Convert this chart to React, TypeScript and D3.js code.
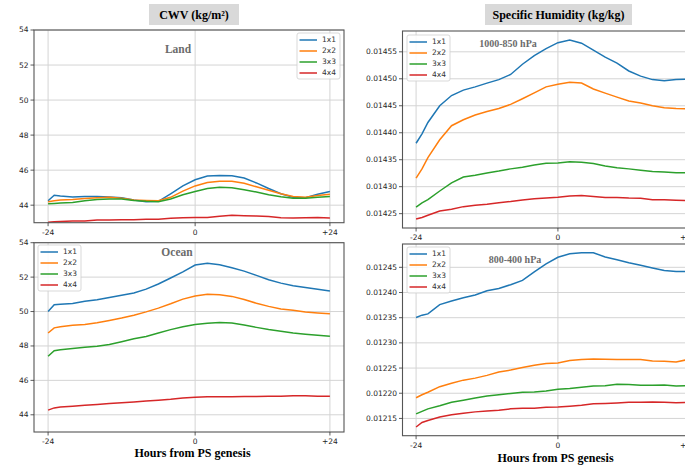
import * as d3 from "d3";

// hours index: 0 = -24 h, 24 = genesis, 46 = last step (labelled +24)
const steps = [0, 1, 2, 4, 6, 8, 10, 12, 14, 16, 18, 20, 22, 24, 26, 28, 30, 32, 34, 36, 38, 40, 42, 44, 46];
const tickSteps = [0, 24, 46];
const tickLabels = ["-24", "0", "+24"];
const seriesNames = ["1x1", "2x2", "3x3", "4x4"];
const colors = ["#1f77b4", "#ff7f0e", "#2ca02c", "#d62728"];

const cwvLand1 = [44.25, 44.57, 44.52, 44.47, 44.5, 44.5, 44.47, 44.42, 44.3, 44.2, 44.22, 44.65, 45.1, 45.45, 45.67, 45.7, 45.68, 45.55, 45.27, 44.95, 44.65, 44.45, 44.42, 44.62, 44.78];
const cwvLand2 = [44.2, 44.25, 44.3, 44.33, 44.38, 44.42, 44.45, 44.4, 44.3, 44.27, 44.25, 44.45, 44.8, 45.1, 45.3, 45.37, 45.37, 45.25, 45.05, 44.85, 44.65, 44.5, 44.45, 44.55, 44.63];
const cwvLand3 = [44.08, 44.1, 44.12, 44.15, 44.25, 44.33, 44.35, 44.35, 44.27, 44.22, 44.2, 44.35, 44.6, 44.78, 44.95, 45.02, 45.0, 44.88, 44.75, 44.6, 44.48, 44.4, 44.4, 44.45, 44.5];
const cwvLand4 = [43.02, 43.05, 43.07, 43.1, 43.1, 43.15, 43.15, 43.17, 43.17, 43.2, 43.2, 43.25, 43.28, 43.3, 43.3, 43.37, 43.42, 43.4, 43.38, 43.35, 43.28, 43.27, 43.28, 43.3, 43.27];

const cwvOcean1 = [50.0, 50.4, 50.42, 50.47, 50.6, 50.68, 50.82, 50.95, 51.08, 51.3, 51.6, 51.95, 52.3, 52.7, 52.8, 52.72, 52.55, 52.35, 52.1, 51.85, 51.65, 51.5, 51.4, 51.3, 51.2];
const cwvOcean2 = [48.75, 49.05, 49.12, 49.2, 49.25, 49.35, 49.48, 49.62, 49.78, 49.98, 50.2, 50.45, 50.72, 50.9, 51.0, 50.97, 50.88, 50.7, 50.48, 50.3, 50.15, 50.07, 49.98, 49.92, 49.87];
const cwvOcean3 = [47.4, 47.72, 47.78, 47.85, 47.92, 47.98, 48.08, 48.25, 48.42, 48.55, 48.75, 48.95, 49.12, 49.25, 49.32, 49.36, 49.33, 49.22, 49.08, 48.95, 48.85, 48.75, 48.68, 48.62, 48.56];
const cwvOcean4 = [44.27, 44.4, 44.45, 44.5, 44.55, 44.6, 44.65, 44.7, 44.75, 44.8, 44.85, 44.9, 44.97, 45.02, 45.05, 45.05, 45.05, 45.07, 45.07, 45.08, 45.08, 45.1, 45.1, 45.08, 45.08];

const shLow1 = [0.0143805, 0.014398, 0.014419, 0.01445, 0.014469, 0.014479, 0.014485, 0.014492, 0.0144985, 0.014508, 0.014527, 0.014543, 0.014556, 0.014567, 0.014572, 0.014566, 0.014553, 0.01454, 0.014529, 0.0145145, 0.014505, 0.0144985, 0.0144965, 0.0144985, 0.0144995];
const shLow2 = [0.014316, 0.014333, 0.014354, 0.014387, 0.014413, 0.014424, 0.014433, 0.0144395, 0.014445, 0.0144525, 0.014463, 0.014474, 0.014485, 0.01449, 0.0144935, 0.014492, 0.014481, 0.0144735, 0.014466, 0.014459, 0.014455, 0.01445, 0.0144465, 0.014445, 0.014444];
const shLow3 = [0.014262, 0.01427, 0.014276, 0.014292, 0.014307, 0.014318, 0.014321, 0.0143255, 0.014329, 0.014333, 0.014336, 0.01434, 0.0143435, 0.014344, 0.014346, 0.0143455, 0.014343, 0.0143385, 0.014335, 0.014333, 0.0143305, 0.014328, 0.014327, 0.014326, 0.014326];
const shLow4 = [0.01424, 0.014243, 0.014247, 0.014255, 0.014258, 0.014263, 0.0142655, 0.0142675, 0.01427, 0.0142725, 0.0142755, 0.0142775, 0.014279, 0.0142805, 0.0142825, 0.0142835, 0.014282, 0.01428, 0.01428, 0.014279, 0.0142785, 0.014276, 0.014276, 0.014275, 0.014274];

const shMid1 = [0.0123505, 0.012355, 0.0123575, 0.012376, 0.012383, 0.0123895, 0.012395, 0.0124035, 0.012408, 0.0124155, 0.012424, 0.012441, 0.012457, 0.01247, 0.012477, 0.012479, 0.012479, 0.0124705, 0.012465, 0.012459, 0.012454, 0.0124485, 0.0124435, 0.0124415, 0.012442];
const shMid2 = [0.012191, 0.012197, 0.012202, 0.012213, 0.01222, 0.012226, 0.01223, 0.0122355, 0.012242, 0.012246, 0.012251, 0.0122555, 0.012259, 0.01226, 0.012265, 0.012267, 0.012268, 0.0122675, 0.012267, 0.012267, 0.012267, 0.012264, 0.0122635, 0.012262, 0.012267];
const shMid3 = [0.012159, 0.012164, 0.012169, 0.012175, 0.012182, 0.012186, 0.0121905, 0.0121945, 0.012197, 0.0121995, 0.012202, 0.0122025, 0.0122045, 0.012208, 0.0122095, 0.012212, 0.0122145, 0.012215, 0.012218, 0.0122175, 0.012216, 0.012216, 0.0122165, 0.0122145, 0.012215];
const shMid4 = [0.012133, 0.012142, 0.012146, 0.012153, 0.0121575, 0.0121605, 0.012163, 0.0121645, 0.012166, 0.012169, 0.01217, 0.01217, 0.012172, 0.0121725, 0.012174, 0.012176, 0.012179, 0.0121795, 0.0121805, 0.012182, 0.012182, 0.0121825, 0.012182, 0.012181, 0.012182];

const cwvTicks = [44, 46, 48, 50, 52, 54];
const shLowTicks = [0.01425, 0.0143, 0.01435, 0.0144, 0.01445, 0.0145, 0.01455];
const shMidTicks = [0.01215, 0.0122, 0.01225, 0.0123, 0.01235, 0.0124, 0.01245];

const SANS = "DejaVu Sans, sans-serif";
const SERIF = "Liberation Serif, Times New Roman, serif";

type PanelProps = {
  box: [number, number, number, number];
  series: number[][];
  yDomain?: [number, number];
  yTicks: number[];
  yFormat: (v: number) => string;
  subtitle: string;
  subPos: [number, number];
  subSize: number;
  legendPos: [number, number];
};

function Panel({ box, series, yDomain, yTicks, yFormat, subtitle, subPos, subSize, legendPos }: PanelProps) {
  const [x0, y0, x1, y1] = box;
  const x = d3.scaleLinear().domain([-2.3, 48.3]).range([x0, x1]);

  let dom = yDomain;
  if (!dom) {
    const all = series.flat();
    const lo = d3.min(all) as number;
    const hi = d3.max(all) as number;
    const pad = (hi - lo) * 0.05;
    dom = [lo - pad, hi + pad];
  }
  const y = d3.scaleLinear().domain(dom).range([y1, y0]);

  const line = d3
    .line<number>()
    .x((_, i) => x(steps[i]))
    .y((v) => y(v));

  const clipId = `clip-${x0}-${y0}`;
  const [lx, ly] = legendPos;

  return (
    <g>
      <defs>
        <clipPath id={clipId}>
          <rect x={x0} y={y0} width={x1 - x0} height={y1 - y0} />
        </clipPath>
      </defs>
      {yTicks.map((t) => (
        <line key={`gy${t}`} x1={x0} x2={x1} y1={y(t)} y2={y(t)} stroke="#d4d4d4" strokeWidth={1} />
      ))}
      {tickSteps.map((t) => (
        <line key={`gx${t}`} x1={x(t)} x2={x(t)} y1={y0} y2={y1} stroke="#d4d4d4" strokeWidth={1} />
      ))}
      <g clipPath={`url(#${clipId})`}>
        {series.map((s, i) => (
          <path key={i} d={line(s) || ""} fill="none" stroke={colors[i]} strokeWidth={1.5} />
        ))}
      </g>
      <rect x={x0} y={y0} width={x1 - x0} height={y1 - y0} fill="none" stroke="#555" strokeWidth={1.1} />
      {yTicks.map((t) => (
        <g key={`ty${t}`}>
          <line x1={x0 - 3.5} x2={x0} y1={y(t)} y2={y(t)} stroke="#333" strokeWidth={0.8} />
          <text x={x0 - 5.5} y={y(t)} dy="0.33em" textAnchor="end" fontSize={7.5} fontFamily={SANS} fill="#262626">
            {yFormat(t)}
          </text>
        </g>
      ))}
      {tickSteps.map((t, i) => (
        <g key={`tx${t}`}>
          <line x1={x(t)} x2={x(t)} y1={y1} y2={y1 + 3.5} stroke="#333" strokeWidth={0.8} />
          <text x={x(t)} y={y1 + 12} textAnchor="middle" fontSize={7.5} fontFamily={SANS} fill="#262626">
            {tickLabels[i]}
          </text>
        </g>
      ))}
      <text
        x={subPos[0]}
        y={subPos[1]}
        textAnchor="middle"
        fontSize={subSize}
        fontWeight="bold"
        fontFamily={SERIF}
        fill="#6b6b6b"
      >
        {subtitle}
      </text>
      <g>
        <rect x={lx} y={ly} width={43} height={46} rx={2} fill="#fff" fillOpacity={0.85} stroke="#cfcfcf" strokeWidth={0.8} />
        {seriesNames.map((n, i) => (
          <g key={n}>
            <line
              x1={lx + 2.5}
              x2={lx + 20}
              y1={ly + 7 + i * 11}
              y2={ly + 7 + i * 11}
              stroke={colors[i]}
              strokeWidth={1.5}
            />
            <text x={lx + 25} y={ly + 7 + i * 11} dy="0.33em" fontSize={7.5} fontFamily={SANS} fill="#333">
              {n}
            </text>
          </g>
        ))}
      </g>
    </g>
  );
}

export default function App() {
  const intFmt = d3.format("d");
  const shFmt = d3.format(".5f");
  return (
    <svg
      width={685}
      height={465}
      style={{ position: "absolute", left: 0, top: 0, background: "#fff" }}
    >
      <rect x={149} y={4} width={90} height={21} fill="#d9d9d9" />
      <text x={194} y={19} textAnchor="middle" fontSize={12} fontWeight="bold" fontFamily={SERIF}>
        CWV (kg/m²)
      </text>
      <rect x={485} y={4} width={147} height={21} fill="#d9d9d9" />
      <text x={558.5} y={19} textAnchor="middle" fontSize={12} fontWeight="bold" fontFamily={SERIF}>
        Specific Humidity (kg/kg)
      </text>

      <Panel
        box={[34, 30, 344, 222.7]}
        series={[cwvLand1, cwvLand2, cwvLand3, cwvLand4]}
        yDomain={[43, 54]}
        yTicks={cwvTicks}
        yFormat={intFmt}
        subtitle="Land"
        subPos={[178, 53]}
        subSize={11.5}
        legendPos={[297, 33]}
      />
      <Panel
        box={[34, 242.7, 344, 432]}
        series={[cwvOcean1, cwvOcean2, cwvOcean3, cwvOcean4]}
        yDomain={[43, 54]}
        yTicks={cwvTicks}
        yFormat={intFmt}
        subtitle="Ocean"
        subPos={[177, 256]}
        subSize={11.5}
        legendPos={[38, 245]}
      />
      <Panel
        box={[402.5, 31, 701.5, 228]}
        series={[shLow1, shLow2, shLow3, shLow4]}
        yTicks={shLowTicks}
        yFormat={shFmt}
        subtitle="1000-850 hPa"
        subPos={[508, 46.5]}
        subSize={10}
        legendPos={[407, 35]}
      />
      <Panel
        box={[402.5, 244, 701.5, 435.7]}
        series={[shMid1, shMid2, shMid3, shMid4]}
        yTicks={shMidTicks}
        yFormat={shFmt}
        subtitle="800-400 hPa"
        subPos={[515, 262.5]}
        subSize={10}
        legendPos={[407, 247]}
      />

      <text x={192.5} y={457} textAnchor="middle" fontSize={12} fontWeight="bold" fontFamily={SERIF}>
        Hours from PS genesis
      </text>
      <text x={555.5} y={462} textAnchor="middle" fontSize={12} fontWeight="bold" fontFamily={SERIF}>
        Hours from PS genesis
      </text>
    </svg>
  );
}
